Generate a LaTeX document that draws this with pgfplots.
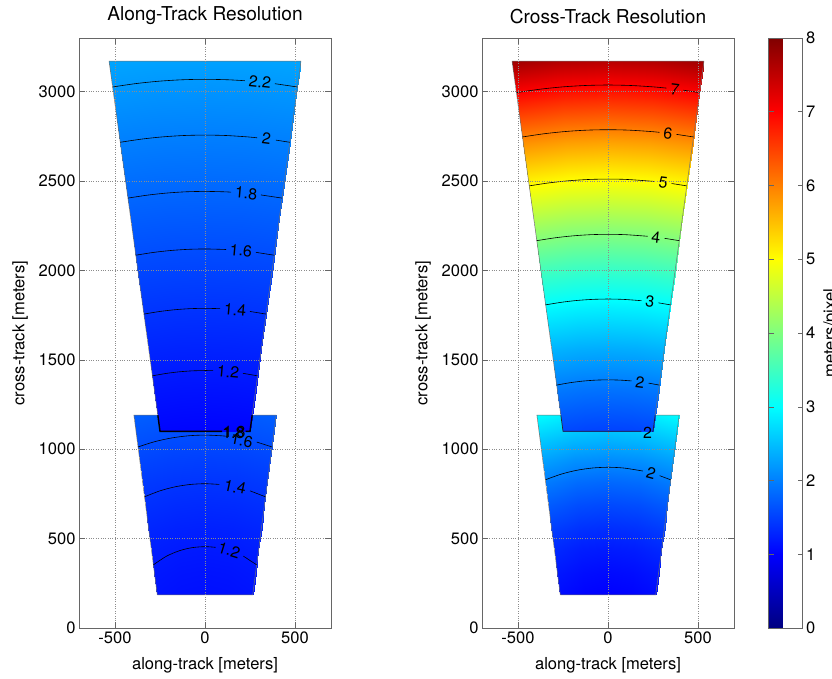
\documentclass[border=0pt]{standalone}
\usepackage{fontspec}
\setmainfont{TeX Gyre Heros}
\usepackage{pgfplots}
\pgfplotsset{compat=1.18}
\usepackage{pgfplotstable}

\newcommand\tickfont{\fontsize{16.6}{19}\selectfont}
\newcommand\titlefont{\fontsize{19.2}{22}\selectfont}
\newcommand\clabfont{\fontsize{16}{18}\selectfont}

% upper footprint (x, y, along-track, cross-track resolution)
\pgfplotstableread{
x y along cross
-250 1100 1.034 1.552
-125 1100 1.024 1.520
0 1100 1.020 1.509
125 1100 1.024 1.520
250 1100 1.034 1.552
-281 1330 1.156 1.946
-141 1330 1.144 1.905
0 1330 1.140 1.892
141 1330 1.144 1.905
281 1330 1.156 1.946
-313 1560 1.285 2.414
-156 1560 1.272 2.364
0 1560 1.268 2.347
156 1560 1.272 2.364
313 1560 1.285 2.414
-344 1790 1.421 2.956
-172 1790 1.406 2.895
0 1790 1.401 2.875
172 1790 1.406 2.895
344 1790 1.421 2.956
-376 2020 1.560 3.572
-188 2020 1.545 3.499
0 2020 1.539 3.475
188 2020 1.545 3.499
376 2020 1.560 3.572
-407 2250 1.703 4.261
-204 2250 1.686 4.176
0 2250 1.681 4.148
204 2250 1.686 4.176
407 2250 1.703 4.261
-439 2480 1.849 5.025
-219 2480 1.830 4.926
0 2480 1.824 4.893
219 2480 1.830 4.926
439 2480 1.849 5.025
-470 2710 1.996 5.862
-235 2710 1.976 5.749
0 2710 1.970 5.711
235 2710 1.976 5.749
470 2710 1.996 5.862
-502 2940 2.145 6.774
-251 2940 2.124 6.644
0 2940 2.117 6.601
251 2940 2.124 6.644
502 2940 2.145 6.774
-533 3170 2.294 7.758
-266 3170 2.273 7.612
0 3170 2.266 7.564
266 3170 2.273 7.612
533 3170 2.294 7.758
}\uppertab

% lower footprint
\pgfplotstableread{
x y along cross
-265 185 1.149 1.086
-132 185 1.122 1.017
0 185 1.113 0.994
132 185 1.122 1.017
265 185 1.149 1.086
-281 310 1.184 1.178
-140 310 1.155 1.100
0 310 1.145 1.075
140 310 1.155 1.100
281 310 1.184 1.178
-297 435 1.234 1.311
-149 435 1.202 1.225
0 435 1.191 1.196
149 435 1.202 1.225
297 435 1.234 1.311
-314 560 1.296 1.486
-157 560 1.262 1.390
0 560 1.251 1.358
157 560 1.262 1.390
314 560 1.296 1.486
-330 690 1.372 1.711
-165 690 1.337 1.604
0 690 1.325 1.569
165 690 1.337 1.604
330 690 1.372 1.711
-346 815 1.454 1.969
-173 815 1.418 1.852
0 815 1.405 1.814
173 815 1.418 1.852
346 815 1.454 1.969
-363 940 1.545 2.270
-181 940 1.507 2.141
0 940 1.494 2.099
181 940 1.507 2.141
363 940 1.545 2.270
-379 1065 1.641 2.611
-189 1065 1.602 2.471
0 1065 1.589 2.424
189 1065 1.602 2.471
379 1065 1.641 2.611
-395 1190 1.743 2.994
-197 1190 1.703 2.841
0 1190 1.690 2.791
197 1190 1.703 2.841
395 1190 1.743 2.994
}\lowertab

\pgfplotsset{
  myaxis/.style={
    scale only axis, width=252bp, height=590bp,
    xmin=-700, xmax=700, ymin=0, ymax=3300,
    xtick={-500,0,500}, ytick={0,500,...,3000},
    grid=major,
    major grid style={dotted, black!45, line width=0.6bp},
    axis line style={black!60},
    tick style={black!60, line width=0.5bp},
    tick align=inside, major tick length=6bp,
    axis on top,
    ticklabel style={font=\tickfont},
    /pgf/number format/assume math mode=true,
    /pgf/number format/1000 sep={},
    xlabel={along-track [meters]}, ylabel={cross-track [meters]},
    label style={font=\tickfont},
    xlabel style={at={(axis description cs:0.5,-0.063)}, anchor=center},
    ylabel style={at={(axis description cs:-0.234,0.5)}, anchor=center},
    title style={font=\titlefont, at={(axis description cs:0.5,1.027)}, anchor=center},
    colormap/jet, point meta min=0, point meta max=8,
  },
  cline/.style={black, line width=0.6bp, smooth, no markers},
  edge/.style={black!55, line width=0.5bp, no markers},
}
\tikzset{clab/.style={font=\clabfont, inner sep=0pt}}

\begin{document}
\begin{tikzpicture}
\path[use as bounding box] (0,0) rectangle (832bp,679bp);

% ---------------- Along-track ----------------
\begin{axis}[myaxis, at={(79bp,51bp)}, anchor=south west, title={Along-Track Resolution}]
\addplot[surf, shader=interp, mesh/rows=9, mesh/cols=5, point meta=explicit]
  table[x=x, y=y, meta=along] {\lowertab};
\addplot[edge] coordinates {(-265,185) (-395,1190) (395,1190) (265,185) (-265,185)};
\addplot[surf, shader=interp, mesh/rows=10, mesh/cols=5, point meta=explicit]
  table[x=x, y=y, meta=along] {\uppertab};
\addplot[edge] coordinates {(-262,1190) (-533,3170) (533,3170) (262,1190)};
% U outline of upper footprint
\addplot[black, line width=1.4bp, no markers] coordinates {(-262,1190) (-250,1100) (95,1100)};
\addplot[black, line width=1.4bp, no markers] coordinates {(225,1100) (250,1100) (262,1190)};
% contours upper
\addplot[cline] coordinates {(-513,3026) (-385,3044.9) (-256,3058.3) (-128,3066.3) (0,3069) (128,3066.3) (222,3061)};
\addplot[cline] coordinates {(388,3044.5) (513,3026)};
\addplot[cline] coordinates {(-471,2716.8) (-353,2734.4) (-236,2746.9) (-118,2754.5) (0,2757) (118,2754.5) (236,2746.9) (290,2741.7)};
\addplot[cline] coordinates {(394,2728.8) (471,2716.8)};
\addplot[cline] coordinates {(-428,2404.5) (-321,2420.9) (-214,2432.6) (-107,2439.7) (0,2442) (107,2439.7) (145,2437.7)};
\addplot[cline] coordinates {(311,2422.2) (428,2404.5)};
\addplot[cline] coordinates {(-385,2085) (-289,2100.3) (-193,2111.2) (-96,2117.8) (0,2120) (96,2117.8) (117,2116.8)};
\addplot[cline] coordinates {(283,2101.1) (385,2085)};
\addplot[cline] coordinates {(-340,1755.7) (-255,1769.8) (-170,1779.9) (-85,1786) (0,1788) (84,1786)};
\addplot[cline] coordinates {(250,1770.5) (340,1755.7)};
\addplot[cline] coordinates {(-292,1410.4) (-219,1423.3) (-146,1432.6) (-73,1438.1) (0,1440) (45,1439.3)};
\addplot[cline] coordinates {(211,1424.5) (292,1410.4)};
% contours lower
\addplot[cline] coordinates {(-372,1012.8) (-279,1042.3) (-186,1062.8) (-93,1075) (0,1079) (93,1075) (121,1072.2)};
\addplot[cline] coordinates {(287,1040.1) (372,1012.8)};
\addplot[cline] coordinates {(-336,733.7) (-252,766.6) (-168,789.3) (-84,802.6) (0,807) (80,803)};
\addplot[cline] coordinates {(250,767.3) (336,733.7)};
\addplot[cline] coordinates {(-287,353.1) (-215,401) (-143,431.9) (-72,449.3) (0,455) (59,451.2)};
\addplot[cline] coordinates {(213,402.1) (287,353.1)};
% labels
\node[clab, rotate=-6] at (axis cs:305,3054) {2.2};
\node[clab, rotate=-7] at (axis cs:342,2736) {2};
\node[clab, rotate=-5] at (axis cs:228,2431) {1.8};
\node[clab, rotate=-5] at (axis cs:200,2111) {1.6};
\node[clab, rotate=-5] at (axis cs:167,1780) {1.4};
\node[clab, rotate=-5] at (axis cs:128,1434) {1.2};
\node[clab, rotate=-11] at (axis cs:204,1050) {1.6};
\node[clab, rotate=-12] at (axis cs:168,789) {1.4};
\node[clab, rotate=-17] at (axis cs:134,435) {1.2};
\node[clab] at (axis cs:158,1092) {1.8};
\node[clab] at (axis cs:164,1096) {1.8};
\end{axis}

% ---------------- Cross-track ----------------
\begin{axis}[myaxis, at={(482bp,51bp)}, anchor=south west, title={Cross-Track Resolution},
  colorbar,
  colorbar style={
    at={(parent axis.north east)}, anchor=north west, xshift=26bp,
    scale only axis, width=34bp, height=590bp,
    ytick={0,1,...,8},
    yticklabel style={font=\tickfont},
    axis line style={black!60},
    tick style={black!60, line width=0.5bp},
    major tick length=5bp,
    /pgf/number format/assume math mode=true,
    ylabel={meters/pixel},
    ylabel style={font=\tickfont, at={(axis description cs:1.84,0.5)}, anchor=center},
  }]
\addplot[surf, shader=interp, mesh/rows=9, mesh/cols=5, point meta=explicit]
  table[x=x, y=y, meta=cross] {\lowertab};
\addplot[edge] coordinates {(-265,185) (-395,1190) (395,1190) (265,185) (-265,185)};
\addplot[surf, shader=interp, mesh/rows=10, mesh/cols=5, point meta=explicit]
  table[x=x, y=y, meta=cross] {\uppertab};
\addplot[edge] coordinates {(-262,1190) (-533,3170) (533,3170) (262,1190)};
\addplot[black!85, line width=0.7bp, no markers] coordinates {(-262,1190) (-250,1100) (185,1100)};
\addplot[black!85, line width=0.7bp, no markers] coordinates {(245,1100) (250,1100) (262,1190)};
% contours upper
\addplot[cline] coordinates {(-509,2994.3) (-382,3013) (-254,3026.4) (-127,3034.3) (0,3037) (127,3034.3) (254,3026.4) (325,3019.6)};
\addplot[cline] coordinates {(419,3008.1) (509,2994.3)};
\addplot[cline] coordinates {(-475,2746.5) (-356,2764.3) (-238,2776.8) (-119,2784.5) (0,2787) (119,2784.5) (238,2776.8) (286,2772.3)};
\addplot[cline] coordinates {(380,2761.1) (475,2746.5)};
\addplot[cline] coordinates {(-437,2473) (-328,2489.6) (-219,2501.4) (-109,2508.6) (0,2511) (109,2508.6) (259,2497.6)};
\addplot[cline] coordinates {(353,2486.2) (437,2473)};
\addplot[cline] coordinates {(-396,2166.4) (-297,2182) (-198,2193.1) (-99,2199.8) (0,2202) (99,2199.8) (220,2191)};
\addplot[cline] coordinates {(314,2179.6) (396,2166.4)};
\addplot[cline] coordinates {(-347,1807.3) (-260,1821.6) (-174,1831.8) (-87,1837.9) (0,1840) (87,1837.9) (186,1830.6)};
\addplot[cline] coordinates {(280,1818.7) (347,1807.3)};
\addplot[cline] coordinates {(-285,1358.7) (-214,1371.5) (-143,1380.6) (-71,1386.2) (0,1388) (71,1386.2) (131,1381.8)};
\addplot[cline] coordinates {(225,1369.8) (285,1358.7)};
% contour lower
\addplot[cline] coordinates {(-348,828.9) (-261,860.3) (-174,882) (-87,894.8) (0,899) (87,894.8) (193,878)};
\addplot[cline] coordinates {(287,852) (348,828.9)};
% labels
\node[clab, rotate=-7] at (axis cs:372,3014) {7};
\node[clab, rotate=-7] at (axis cs:333,2767) {6};
\node[clab, rotate=-7] at (axis cs:306,2492) {5};
\node[clab, rotate=-7] at (axis cs:267,2186) {4};
\node[clab, rotate=-7] at (axis cs:233,1825) {3};
\node[clab, rotate=-7] at (axis cs:178,1376) {2};
\node[clab] at (axis cs:220,1092) {2};
\node[clab, rotate=-15] at (axis cs:240,866) {2};
\end{axis}
\end{tikzpicture}
\end{document}
